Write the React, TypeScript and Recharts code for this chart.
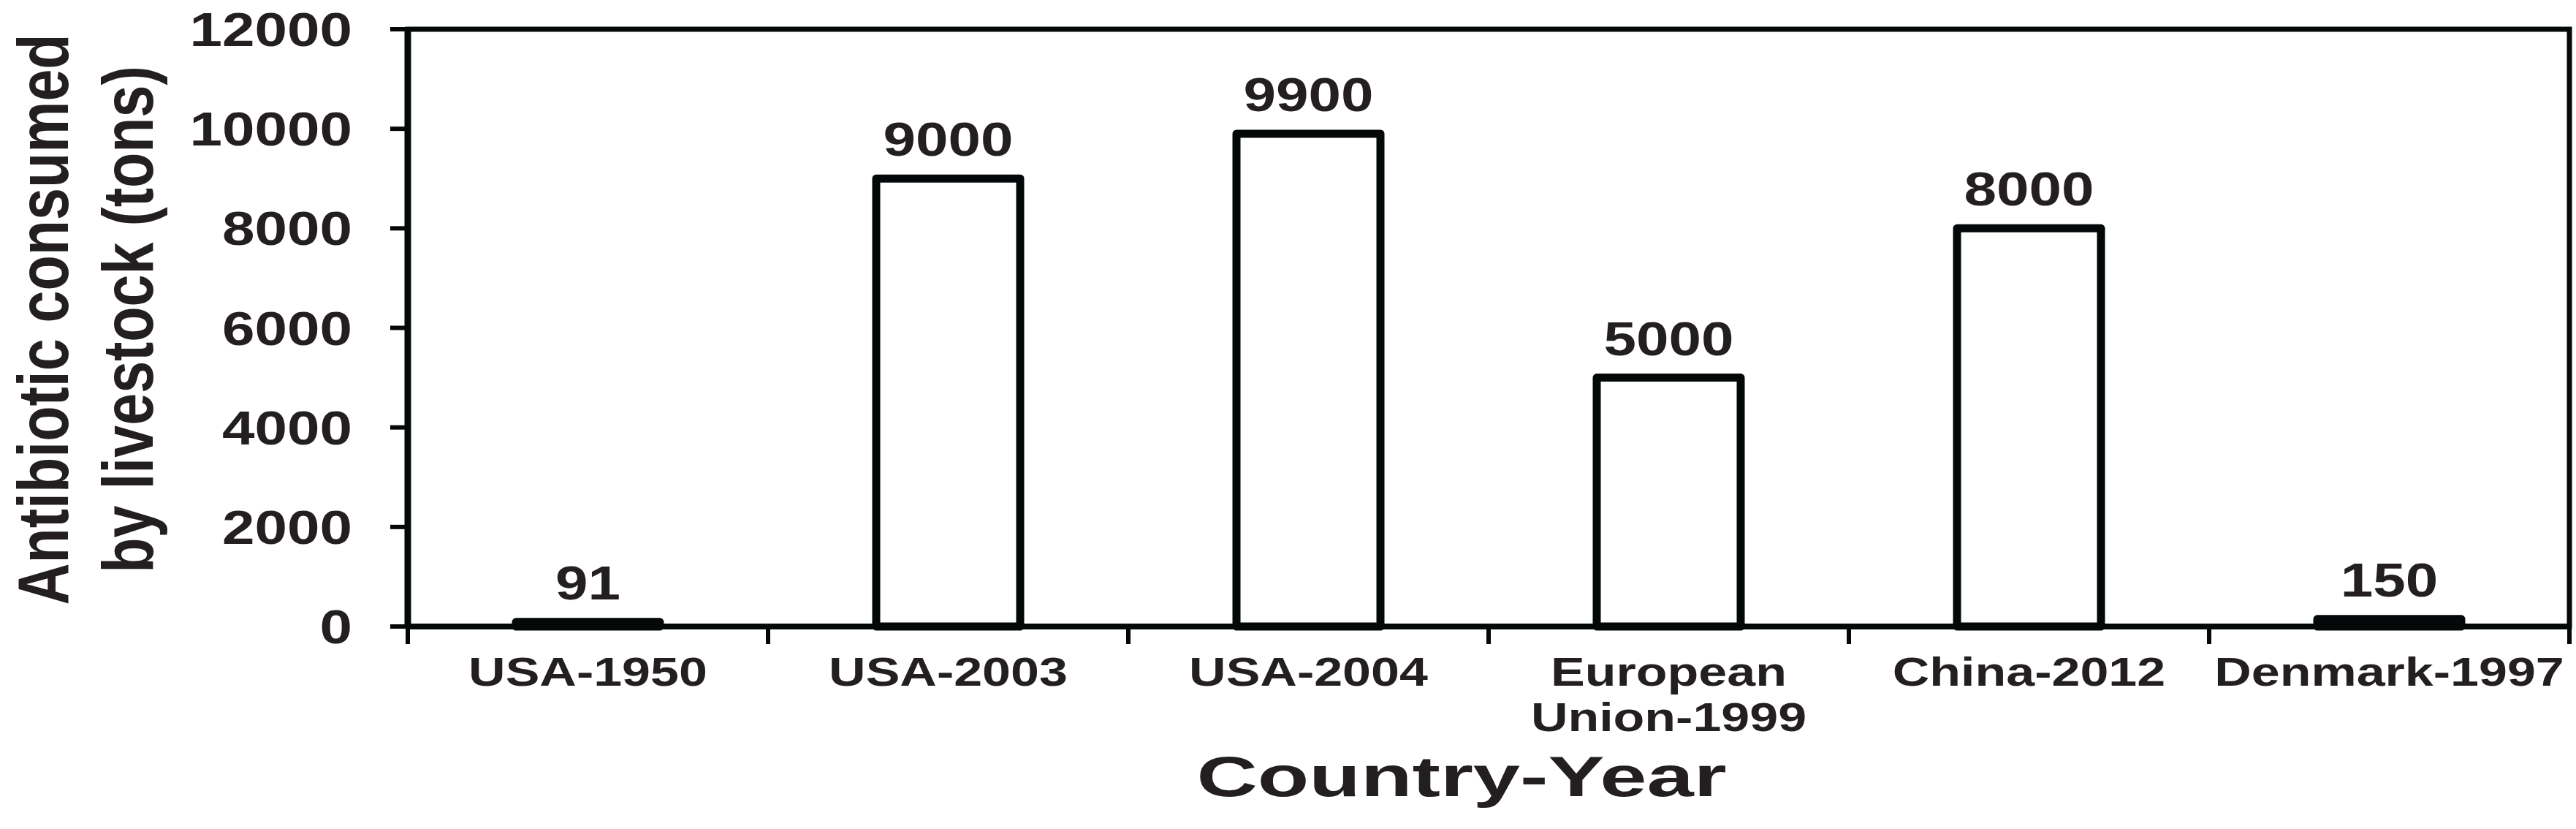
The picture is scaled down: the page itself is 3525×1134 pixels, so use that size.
import React from 'react';
import { BarChart, Bar, XAxis, YAxis, LabelList, ReferenceArea } from 'recharts';

// values
const categories = ['USA-1950', 'USA-2003', 'USA-2004', 'European\nUnion-1999', 'China-2012', 'Denmark-1997'];
const consumedTons = [91, 9000, 9900, 5000, 8000, 150];
const yTicks = [0, 2000, 4000, 6000, 8000, 10000, 12000];

const data = categories.map((name, i) => ({ name, tons: consumedTons[i] }));

const W = 3525;
const H = 1134;
const MARGIN = { top: 40, right: 9, left: 0, bottom: 0 };
const Y_AXIS_W = 558;
const X_AXIS_H = 277;
const PLOT_W = W - MARGIN.left - MARGIN.right - Y_AXIS_W;
const BAND = PLOT_W / categories.length;

const INK = '#050808';
const TEXT = '#231f20';
const FONT = '"Liberation Sans", Arial, Helvetica, sans-serif';
const SX = 1.25; // the original figure is stretched sideways

const YTick = ({ x, y, payload }: any) => (
  <g transform={`translate(${x},${y + 23}) scale(${SX},1)`}>
    <text textAnchor="end" fontSize={64} fontWeight="bold" fontFamily={FONT} fill={TEXT}>
      {payload.value}
    </text>
  </g>
);

const XTick = ({ x, y, payload, index }: any) => {
  const lines = String(payload.value).split('\n');
  // ticks sit on the category boundaries, not under the bars
  const edges = [x - BAND / 2];
  if (index === categories.length - 1) edges.push(x + BAND / 2);
  return (
    <g>
      {edges.map((ex, i) => (
        <line key={i} x1={ex} x2={ex} y1={y} y2={y + 24} stroke={INK} strokeWidth={6} />
      ))}
      <g transform={`translate(${x},${y + 81}) scale(${SX},1)`}>
        {lines.map((l, i) => (
          <text key={l} x={0} y={i * 62} textAnchor="middle" fontSize={56} fontWeight="bold" fontFamily={FONT} fill={TEXT}>
            {l}
          </text>
        ))}
      </g>
    </g>
  );
};

const YTitle = () => (
  <g fontSize={79} fontWeight="bold" fontFamily={FONT} fill={TEXT}>
    <g transform={`translate(93,437) scale(1.25,1) rotate(-90)`}>
      <text textAnchor="middle">Antibiotic consumed</text>
    </g>
    <g transform={`translate(209,437) scale(1.25,1) rotate(-90)`}>
      <text textAnchor="middle">by livestock (tons)</text>
    </g>
  </g>
);

const XTitle = () => (
  <g transform={`translate(2000,1089) scale(1.5,1)`}>
    <text textAnchor="middle" fontSize={77} fontWeight="bold" fontFamily={FONT} fill={TEXT}>
      Country-Year
    </text>
  </g>
);

const ValueLabel = ({ x, y, width, value }: any) => (
  <g transform={`translate(${x + width / 2},${y - 31}) scale(${SX},1)`}>
    <text textAnchor="middle" fontSize={64} fontWeight="bold" fontFamily={FONT} fill={TEXT}>
      {value}
    </text>
  </g>
);

export default function App() {
  return (
    <div style={{ position: 'absolute', left: 0, top: 0, width: W, height: H, background: '#fff' }}>
      <BarChart width={W} height={H} data={data} margin={MARGIN}>
        <ReferenceArea y1={0} y2={12000} fill="none" stroke={INK} strokeWidth={7} ifOverflow="visible" />
        <XAxis
          dataKey="name"
          height={X_AXIS_H}
          interval={0}
          tickSize={0}
          tickMargin={0}
          tickLine={false}
          axisLine={{ stroke: INK, strokeWidth: 8 }}
          tick={<XTick />}
          label={<XTitle />}
        />
        <YAxis
          width={Y_AXIS_W}
          domain={[0, 12000]}
          ticks={yTicks}
          interval={0}
          tickSize={24}
          tickMargin={52}
          tickLine={{ stroke: INK, strokeWidth: 6 }}
          axisLine={{ stroke: INK, strokeWidth: 9 }}
          tick={<YTick />}
          label={<YTitle />}
        />
        <Bar
          dataKey="tons"
          fill="#ffffff"
          stroke={INK}
          strokeWidth={11}
          strokeLinejoin="round"
          barSize={197}
          isAnimationActive={false}
        >
          <LabelList dataKey="tons" content={<ValueLabel />} />
        </Bar>
      </BarChart>
    </div>
  );
}
